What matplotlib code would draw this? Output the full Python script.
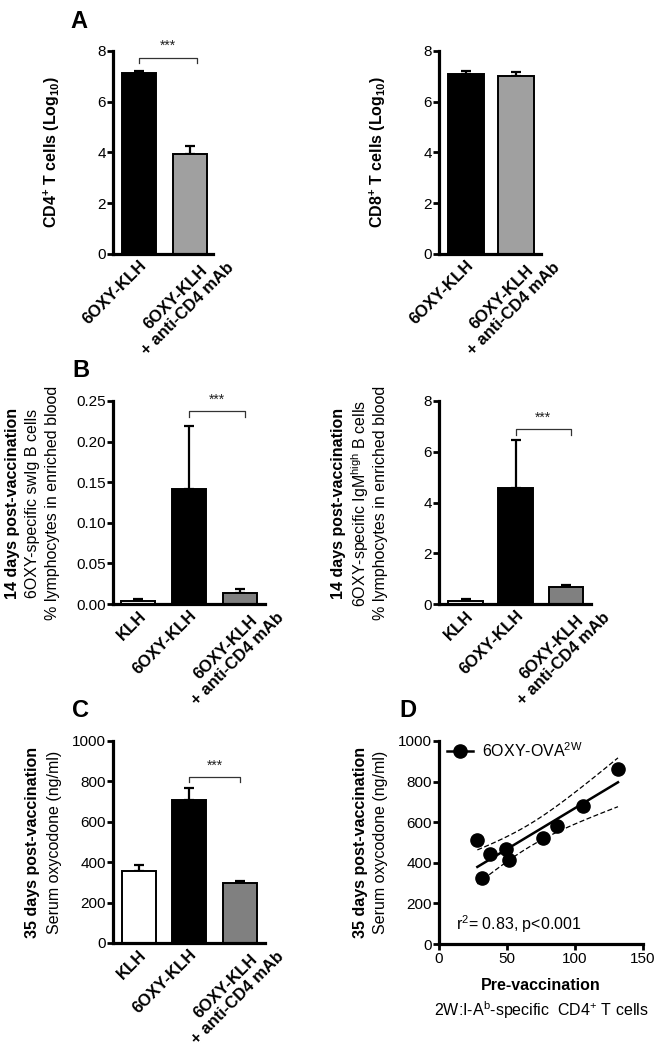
import numpy as np
import matplotlib
matplotlib.use("Agg")
import matplotlib.pyplot as plt
from matplotlib.transforms import ScaledTranslation

plt.rcParams['font.family'] = ['Liberation Sans', 'DejaVu Sans']
plt.rcParams['mathtext.fontset'] = 'custom'
plt.rcParams['mathtext.rm'] = 'Liberation Sans'
plt.rcParams['mathtext.bf'] = 'Liberation Sans:bold'
plt.rcParams['mathtext.it'] = 'Liberation Sans:italic'

# ----------------------------
# data
# ----------------------------
labels_a = ["6OXY-KLH", "6OXY-KLH\n+ anti-CD4 mAb"]
cd4_mean = [7.15, 3.95]
cd4_err = [0.08, 0.30]
cd8_mean = [7.11, 7.02]
cd8_err = [0.09, 0.15]

labels_bc = ["KLH", "6OXY-KLH", "6OXY-KLH\n+ anti-CD4 mAb"]
swig_mean = [0.004, 0.142, 0.013]
swig_err = [0.0025, 0.077, 0.005]
igm_mean = [0.13, 4.56, 0.68]
igm_err = [0.07, 1.92, 0.05]
oxy_mean = [356, 708, 296]
oxy_err = [32, 58, 12]

pre_cd4 = [28.2, 31.6, 37.3, 49.0, 51.5, 76.3, 86.8, 105.9, 131.6]
serum_oxy = [512, 324, 443, 466, 414, 522, 583, 680, 862]

colors_a = ["black", "#a0a0a0"]
colors_bc = ["white", "black", "#808080"]

TICK_FS = 11
CAT_FS = 12
LAB_FS = 11.5

W, H = 662, 1050
fig = plt.figure(figsize=(W / 100, H / 100), dpi=100)


def px_axes(x0, x1, ytop, ybot):
    return fig.add_axes([x0 / W, 1 - ybot / H, (x1 - x0) / W, (ybot - ytop) / H])


def ftext(x, y, s, **kw):
    fig.text(x / W, 1 - y / H, s, **kw)


def style(ax, xticks=False):
    for sp in ["top", "right"]:
        ax.spines[sp].set_visible(False)
    for sp in ["left", "bottom"]:
        ax.spines[sp].set_linewidth(2.3)
    ax.tick_params(axis="y", direction="out", length=4, width=2, labelsize=TICK_FS, pad=1)
    if xticks:
        ax.tick_params(axis="x", direction="out", length=4, width=2, labelsize=TICK_FS, pad=2)
    else:
        ax.tick_params(axis="x", length=0)


def bars(ax, means, errs, colors, labels, width):
    x = np.arange(len(means))
    ax.bar(x, means, width=width, color=colors, edgecolor="black", linewidth=1.4, zorder=2)
    ax.errorbar(x, means, yerr=[np.zeros(len(errs)), errs], fmt="none", ecolor="black",
                elinewidth=1.6, capsize=3.6, capthick=1.6, zorder=1)
    ax.set_xticks(x)
    ax.set_xticklabels([])
    # category labels, rotated; two-line labels sit a bit further right like in Prism
    for xi, lab in zip(x, labels):
        if "\n" in lab:
            dx, dy = 24, 6
        else:
            dx, dy = 0, -4
        tr = ax.get_xaxis_transform() + ScaledTranslation(dx / 100, dy / 100, fig.dpi_scale_trans)
        ax.text(xi, 0, lab, transform=tr, rotation=45, rotation_mode="anchor", ha="right",
                va="top", multialignment="center", fontweight="bold", fontsize=CAT_FS,
                clip_on=False)
    style(ax)


def bracket(ax, x0, x1, y, leg, star_y):
    ax.plot([x0, x0, x1, x1], [y - leg, y, y, y - leg], color="#333333", lw=0.9, clip_on=False)
    ax.text((x0 + x1) / 2, star_y, "***", ha="center", va="center", fontsize=10, color="#222222")


# ----------------------------
# A
# ----------------------------
ax1 = px_axes(113, 213, 51, 254)
bars(ax1, cd4_mean, cd4_err, colors_a, labels_a, 0.67)
ax1.set_xlim(-0.51, 1.45)
ax1.set_ylim(0, 8)
ax1.set_yticks([0, 2, 4, 6, 8])
bracket(ax1, 0, 1.14, 7.72, 0.2, 8.2)
ftext(52, 152, r"$\mathbf{CD4^{+}\ T\ cells\ (Log_{10})}$", rotation=90, ha="center", va="center", fontsize=LAB_FS)

ax2 = px_axes(439, 541, 51, 254)
bars(ax2, cd8_mean, cd8_err, colors_a, labels_a, 0.72)
ax2.set_xlim(-0.54, 1.5)
ax2.set_ylim(0, 8)
ax2.set_yticks([0, 2, 4, 6, 8])
ftext(378, 152, r"$\mathbf{CD8^{+}\ T\ cells\ (Log_{10})}$", rotation=90, ha="center", va="center", fontsize=LAB_FS)

ftext(70, 28, "A", fontsize=17, fontweight="bold", ha="left", va="baseline")

# ----------------------------
# B
# ----------------------------
ax3 = px_axes(113, 265, 401, 604)
bars(ax3, swig_mean, swig_err, colors_bc, labels_bc, 0.67)
ax3.set_xlim(-0.5, 2.5)
ax3.set_ylim(0, 0.25)
ax3.set_yticks([0, 0.05, 0.10, 0.15, 0.20, 0.25])
ax3.set_yticklabels(["0.00", "0.05", "0.10", "0.15", "0.20", "0.25"])
bracket(ax3, 1, 2.1, 0.238, 0.008, 0.251)
ftext(13, 503, "14 days post-vaccination", rotation=90, ha="center", va="center", fontsize=LAB_FS, fontweight="bold")
ftext(33, 503, "6OXY-specific swIg B cells", rotation=90, ha="center", va="center", fontsize=LAB_FS)
ftext(53, 503, "% lymphocytes in enriched blood", rotation=90, ha="center", va="center", fontsize=LAB_FS)

ax4 = px_axes(439, 591, 401, 604)
bars(ax4, igm_mean, igm_err, colors_bc, labels_bc, 0.69)
ax4.set_xlim(-0.53, 2.5)
ax4.set_ylim(0, 8)
ax4.set_yticks([0, 2, 4, 6, 8])
bracket(ax4, 1, 2.1, 6.88, 0.22, 7.32)
ftext(338, 503, "14 days post-vaccination", rotation=90, ha="center", va="center", fontsize=LAB_FS, fontweight="bold")
ftext(360, 503, r"6OXY-specific IgM$^{\mathrm{high}}$ B cells", rotation=90, ha="center", va="center", fontsize=LAB_FS)
ftext(381, 503, "% lymphocytes in enriched blood", rotation=90, ha="center", va="center", fontsize=LAB_FS)

ftext(72, 377, "B", fontsize=17, fontweight="bold", ha="left", va="baseline")

# ----------------------------
# C
# ----------------------------
ax5 = px_axes(113, 265, 741, 943)
bars(ax5, oxy_mean, oxy_err, colors_bc, labels_bc, 0.67)
ax5.set_xlim(-0.51, 2.5)
ax5.set_ylim(0, 1000)
ax5.set_yticks([0, 200, 400, 600, 800, 1000])
bracket(ax5, 1, 2.0, 823, 28, 875)
ftext(33, 842, "35 days post-vaccination", rotation=90, ha="center", va="center", fontsize=LAB_FS, fontweight="bold")
ftext(55, 842, "Serum oxycodone (ng/ml)", rotation=90, ha="center", va="center", fontsize=LAB_FS)

ftext(72, 717, "C", fontsize=17, fontweight="bold", ha="left", va="baseline")

# ----------------------------
# D
# ----------------------------
ax6 = px_axes(439, 643, 741, 944)
xd = np.array(pre_cd4)
yd = np.array(serum_oxy)
slope, icpt = np.polyfit(xd, yd, 1)
n = len(xd)
resid = yd - (slope * xd + icpt)
s = np.sqrt(np.sum(resid ** 2) / (n - 2))
sxx = np.sum((xd - xd.mean()) ** 2)
t95 = 2.365  # t(0.975, df=7)
xf = np.linspace(xd.min(), xd.max(), 100)
yf = slope * xf + icpt
band = t95 * s * np.sqrt(1 / n + (xf - xd.mean()) ** 2 / sxx)
r2 = 1 - np.sum(resid ** 2) / np.sum((yd - yd.mean()) ** 2)

ax6.plot(xf, yf, color="black", lw=1.8, zorder=2)
ax6.plot(xf, yf + band, color="black", lw=0.9, ls=(0, (4, 2)), zorder=2)
ax6.plot(xf, yf - band, color="black", lw=0.9, ls=(0, (4, 2)), zorder=2)
ax6.plot(xd, yd, "o", color="black", markersize=9.5, zorder=3, label=r"6OXY-OVA$^{\mathrm{2W}}$")
leg = ax6.legend(loc="upper left", frameon=False, fontsize=11.5, handlelength=1.6,
                 borderaxespad=0.1, handletextpad=0.6, bbox_to_anchor=(0.0, 1.04))
leg.legend_handles[0].set_linestyle("-")
leg.legend_handles[0].set_linewidth(1.8)
ax6.set_xlim(0, 150)
ax6.set_ylim(0, 1000)
ax6.set_xticks([0, 50, 100, 150])
ax6.set_yticks([0, 200, 400, 600, 800, 1000])
style(ax6, xticks=True)
ax6.text(0.085, 0.1, r"r$^{2}$= %.2f, p<0.001" % r2, transform=ax6.transAxes, fontsize=11.5, va="center")
ftext(541, 986, "Pre-vaccination", ha="center", va="center", fontsize=LAB_FS, fontweight="bold")
ftext(541, 1010, r"2W:I-A$^{\mathrm{b}}$-specific  CD4$^{+}$ T cells", ha="center", va="center", fontsize=LAB_FS)
ftext(361, 842, "35 days post-vaccination", rotation=90, ha="center", va="center", fontsize=LAB_FS, fontweight="bold")
ftext(381, 842, "Serum oxycodone (ng/ml)", rotation=90, ha="center", va="center", fontsize=LAB_FS)

ftext(399, 717, "D", fontsize=17, fontweight="bold", ha="left", va="baseline")

fig.savefig("out.png", dpi=100)
